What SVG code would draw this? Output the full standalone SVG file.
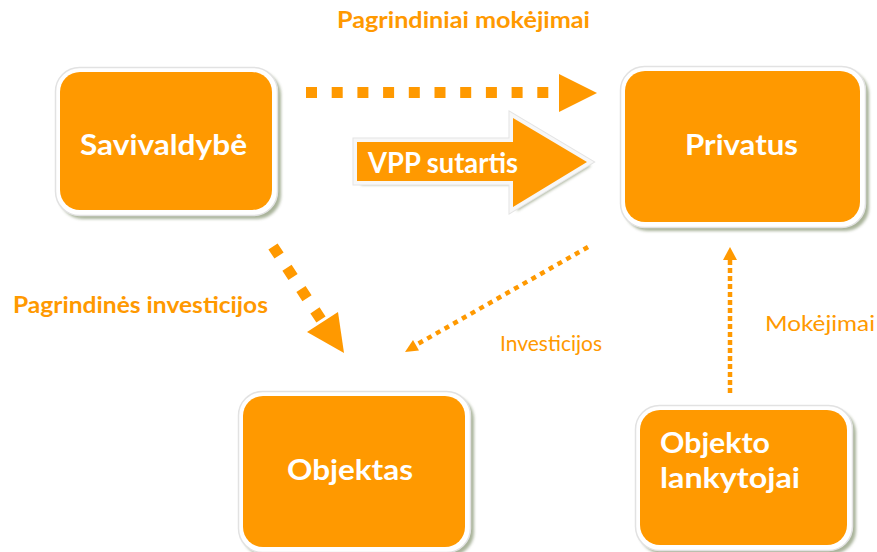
<svg xmlns="http://www.w3.org/2000/svg" width="877" height="552" viewBox="0 0 877 552">
  <defs>
    <filter id="shadow" x="-10%" y="-10%" width="130%" height="130%">
      <feGaussianBlur stdDeviation="1.5"/>
    </filter>
  </defs>
  <style>
    .shadow { fill: #8c9a78; opacity: 0.75; filter: url(#shadow); }
    .frame { fill: #ffffff; stroke: #e2e2e2; stroke-width: 1.5; }
    .box { fill: #ff9900; }
    .ntext { font-family: Lato, "Open Sans", "Liberation Sans", sans-serif; font-weight: bold; font-size: 29px; fill: #ffffff; }
    .lbl { font-family: Lato, "Open Sans", "Liberation Sans", sans-serif; fill: #ff9900; }
    .bold { font-weight: bold; font-size: 22px; }
    .reg { font-size: 22px; }
    .thick { stroke: #ff9900; stroke-width: 11; fill: none; }
    .thin { stroke: #ff9900; stroke-width: 4.5; fill: none; }
    .head { fill: #ff9900; }
  </style>
  <rect width="877" height="552" fill="#ffffff"/>

  <g id="labels">
    <text class="lbl bold" x="337" y="28" textLength="253" lengthAdjust="spacingAndGlyphs">Pagrindiniai mokėjimai</text>
    <text class="lbl bold" x="13" y="313" textLength="255" lengthAdjust="spacingAndGlyphs">Pagrindinės investicijos</text>
    <text class="lbl reg" x="500" y="351" textLength="102" lengthAdjust="spacingAndGlyphs">Investicijos</text>
    <text class="lbl reg" x="765" y="331" font-size="23" textLength="110" lengthAdjust="spacingAndGlyphs">Mokėjimai</text>
  </g>

  <g id="connectors">
    <line class="thick" x1="306" y1="92.5" x2="548.3" y2="92.5" stroke-dasharray="11 14.7"/>
    <polygon class="head" points="559,74 597,93 559,112"/>
    <line class="thick" x1="273" y1="246.4" x2="321" y2="319.6" stroke-dasharray="11 14.5"/>
    <polygon class="head" points="307,332 338,312 344,353"/>
    <line class="thin" x1="588" y1="247" x2="416" y2="345" stroke-dasharray="5 5"/>
    <polygon class="head" points="405,352 413,340 419,350.5"/>
    <line class="thin" x1="730" y1="393" x2="730" y2="260" stroke-dasharray="5 3"/>
    <polygon class="head" points="730,247 737,260 723,260"/>
  </g>

  <g id="vpp-sutartis">
    <polygon class="shadow" points="361,146 517,146 517,122 591,166 517,211 517,185 361,185"/>
    <polygon points="357,142 513,142 513,118 587,162 513,207 513,181 357,181" fill="#ff9900" stroke="#e4e4e4" stroke-width="9" stroke-linejoin="miter"/>
    <polygon points="357,142 513,142 513,118 587,162 513,207 513,181 357,181" fill="#ff9900" stroke="#f7f7f7" stroke-width="7" stroke-linejoin="miter"/>
    <polygon class="head" points="357,142 513,142 513,118 587,162 513,207 513,181 357,181"/>
    <text class="ntext" x="368" y="173" textLength="150" lengthAdjust="spacingAndGlyphs">VPP sutartis</text>
  </g>

  <g id="savivaldybe">
    <rect class="shadow" x="59" y="71" width="222" height="148" rx="24"/>
    <rect class="frame" x="55.5" y="67.5" width="222" height="148" rx="24"/>
    <rect class="box" x="60" y="72" width="212" height="138" rx="20"/>
    <text class="ntext" x="80" y="155" textLength="167" lengthAdjust="spacingAndGlyphs">Savivaldybė</text>
  </g>

  <g id="privatus">
    <rect class="shadow" x="624" y="70" width="245" height="161" rx="24"/>
    <rect class="frame" x="620.5" y="66.5" width="245" height="161" rx="24"/>
    <rect class="box" x="625" y="71" width="235" height="151" rx="20"/>
    <text class="ntext" x="685" y="155" textLength="113" lengthAdjust="spacingAndGlyphs">Privatus</text>
  </g>

  <g id="objektas">
    <rect class="shadow" x="242" y="395" width="232" height="161" rx="24"/>
    <rect class="frame" x="238.5" y="391.5" width="232" height="161" rx="24"/>
    <rect class="box" x="243" y="396" width="222" height="151" rx="20"/>
    <text class="ntext" x="287" y="480" textLength="126" lengthAdjust="spacingAndGlyphs">Objektas</text>
  </g>

  <g id="objekto-lankytojai">
    <rect class="shadow" x="639" y="409" width="217" height="145" rx="24"/>
    <rect class="frame" x="635.5" y="405.5" width="217" height="145" rx="24"/>
    <rect class="box" x="640" y="410" width="207" height="135" rx="20"/>
    <text class="ntext" x="660" y="453" textLength="110" lengthAdjust="spacingAndGlyphs">Objekto</text>
    <text class="ntext" x="660" y="488" textLength="140" lengthAdjust="spacingAndGlyphs">lankytojai</text>
  </g>
</svg>
